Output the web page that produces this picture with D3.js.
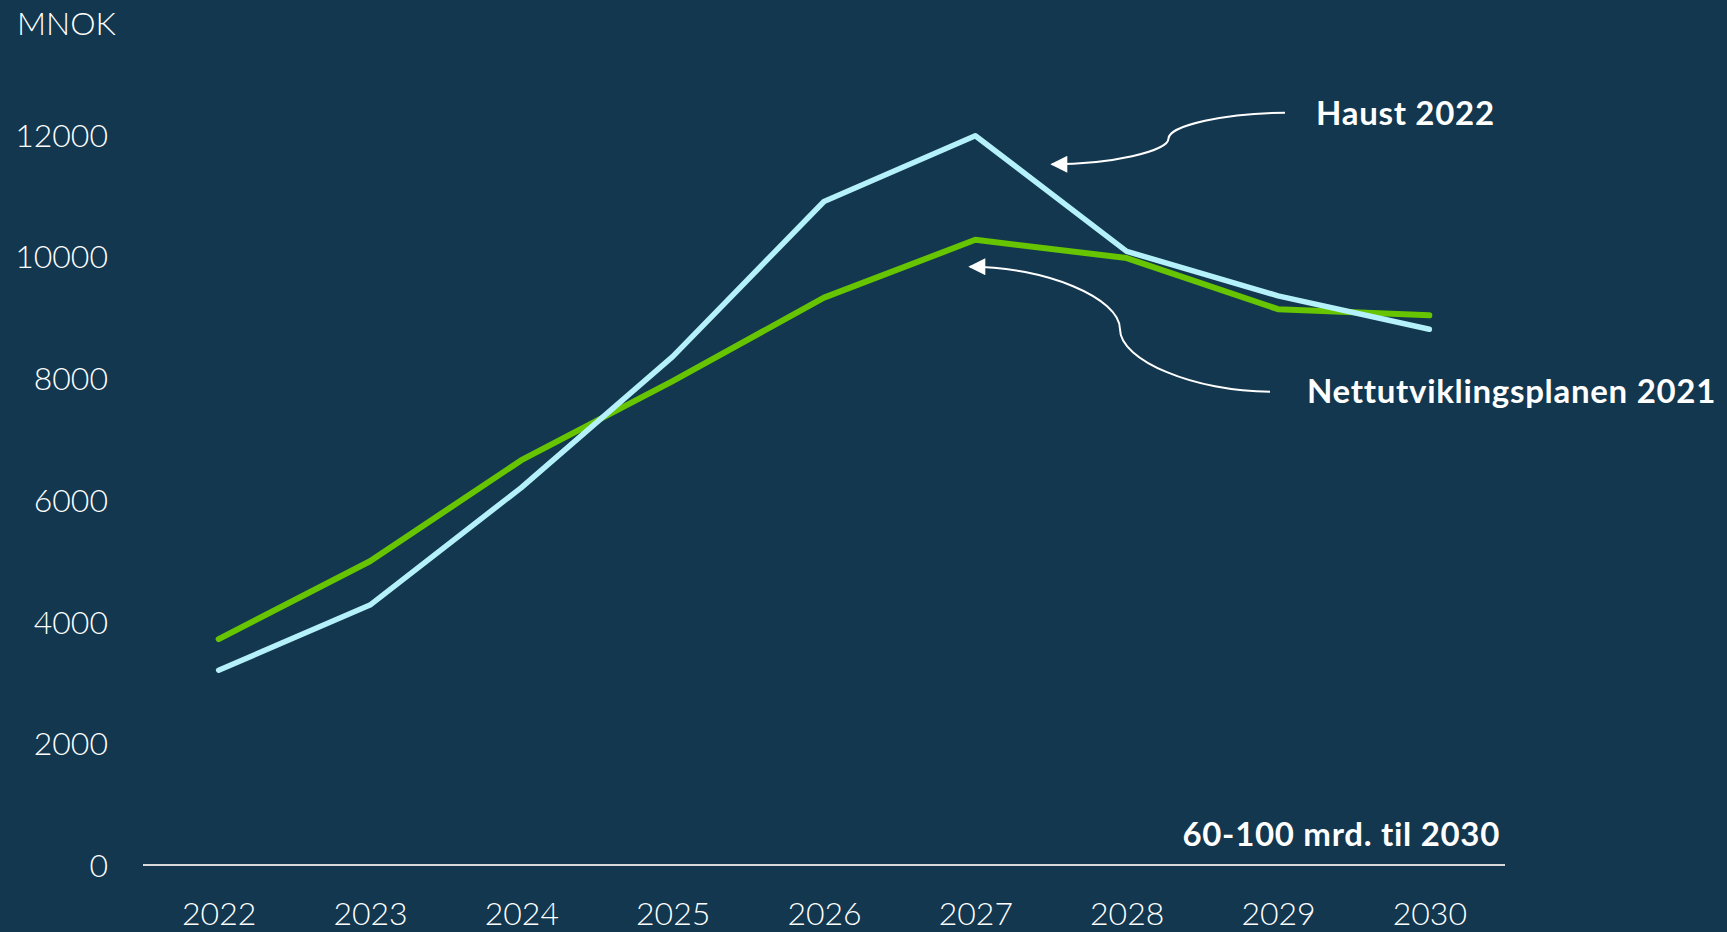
<!DOCTYPE html>
<html>
<head>
<meta charset="utf-8">
<script src="https://cdn.jsdelivr.net/npm/d3@7"></script>
<style>
  html, body { margin: 0; padding: 0; background: #12374f; overflow: hidden; }
  svg { display: block; font-family: Lato, "Open Sans", sans-serif; }
  .tick-label { fill: #ffffff; font-size: 32px; font-weight: 300; font-family: Lato, "Open Sans", sans-serif; }
  .note { fill: #ffffff; font-size: 33px; font-weight: 700; letter-spacing: 0.7px; }
</style>
</head>
<body>
<svg id="chart"></svg>
<script>
const years = [2022, 2023, 2024, 2025, 2026, 2027, 2028, 2029, 2030];
const haust2022 = [3200, 4270, 6200, 8350, 10900, 11980, 10080, 9350, 8800];
const nup2021 = [3710, 4990, 6650, 7950, 9320, 10270, 9970, 9130, 9030];
const yTicks = [0, 2000, 4000, 6000, 8000, 10000, 12000];

const lineChart = (function () {
  const lc = {};

  lc.draw = function (svgId) {
    const width = 1727, height = 932;
    const svg = d3.select(`#${svgId}`)
      .attr('width', width)
      .attr('height', height);

    svg.append('rect')
      .attr('width', width)
      .attr('height', height)
      .attr('fill', '#12374f');

    const xScale = d3.scalePoint()
      .domain(years)
      .range([143, 1505])
      .padding(0.5);

    const yScale = d3.scaleLinear()
      .domain([0, 12000])
      .range([865, 134.5]);

    // y tick labels, no axis line
    const yAxis = d3.axisLeft(yScale)
      .tickValues(yTicks)
      .tickSize(0)
      .tickPadding(0)
      .tickFormat(d3.format('d'));

    const yAxisG = svg.append('g')
      .attr('transform', 'translate(108,0)')
      .call(yAxis)
      .attr('font-family', null)
      .attr('font-size', null);
    yAxisG.select('.domain').remove();
    yAxisG.selectAll('text')
      .attr('class', 'tick-label')
      .attr('dy', '0.36em');

    // x axis baseline + year labels
    const xAxis = d3.axisBottom(xScale)
      .tickSize(0)
      .tickPadding(0)
      .tickFormat(d3.format('d'));

    const xAxisG = svg.append('g')
      .attr('transform', `translate(0,${yScale(0)})`)
      .call(xAxis)
      .attr('font-family', null)
      .attr('font-size', null);
    xAxisG.select('.domain')
      .attr('stroke', '#d9d9d9')
      .attr('stroke-width', 2)
      .attr('d', 'M143,0H1505');
    xAxisG.selectAll('text')
      .attr('class', 'tick-label')
      .attr('y', 60)
      .attr('dy', 0);

    svg.append('text')
      .attr('class', 'tick-label')
      .attr('x', 17)
      .attr('y', 35)
      .text('MNOK');

    const line = d3.line()
      .x((d, i) => xScale(years[i]))
      .y(d => yScale(d));

    svg.append('path')
      .datum(nup2021)
      .attr('fill', 'none')
      .attr('stroke', '#66c400')
      .attr('stroke-width', 6)
      .attr('stroke-linecap', 'round')
      .attr('stroke-linejoin', 'round')
      .attr('d', line);

    svg.append('path')
      .datum(haust2022)
      .attr('fill', 'none')
      .attr('stroke', '#b5f1fb')
      .attr('stroke-width', 5.5)
      .attr('stroke-linecap', 'round')
      .attr('stroke-linejoin', 'round')
      .attr('d', line);

    // arrow marker for the annotation connectors
    svg.append('defs').append('marker')
      .attr('id', 'arrow')
      .attr('viewBox', '0 0 10 10')
      .attr('refX', 9)
      .attr('refY', 5)
      .attr('markerUnits', 'userSpaceOnUse')
      .attr('markerWidth', 18)
      .attr('markerHeight', 17)
      .attr('orient', 'auto')
      .append('path')
        .attr('d', 'M0,0L10,5L0,10z')
        .attr('fill', '#ffffff');

    // curved connector, like the office "curvedConnector3"
    const connector = (x0, y0, x1, y1) => {
      const xm = (x0 + x1) / 2, ym = (y0 + y1) / 2;
      const h = y1 - y0;
      return `M${x0},${y0}C${(x0 + xm) / 2},${y0} ${xm},${y0 + h / 4} ${xm},${ym}` +
        `C${xm},${y0 + 3 * h / 4} ${(xm + x1) / 2},${y1} ${x1},${y1}`;
    };

    const notes = [
      {text: 'Haust 2022', tx: 1316, ty: 125, from: [1285, 112.7], to: [1052, 164.3]},
      {text: 'Nettutviklingsplanen 2021', tx: 1307, ty: 403, from: [1270, 391.7], to: [970, 266.7]}
    ];

    notes.forEach(n => {
      svg.append('path')
        .attr('fill', 'none')
        .attr('stroke', '#ffffff')
        .attr('stroke-width', 2)
        .attr('marker-end', 'url(#arrow)')
        .attr('d', connector(n.from[0], n.from[1], n.to[0], n.to[1]));
      svg.append('text')
        .attr('class', 'note')
        .attr('x', n.tx)
        .attr('y', n.ty)
        .text(n.text);
    });

    svg.append('text')
      .attr('class', 'note')
      .attr('x', 1500)
      .attr('y', 846)
      .attr('text-anchor', 'end')
      .text('60-100 mrd. til 2030');

    return svg;
  };

  return lc;
})();

lineChart.draw('chart');
</script>
</body>
</html>
